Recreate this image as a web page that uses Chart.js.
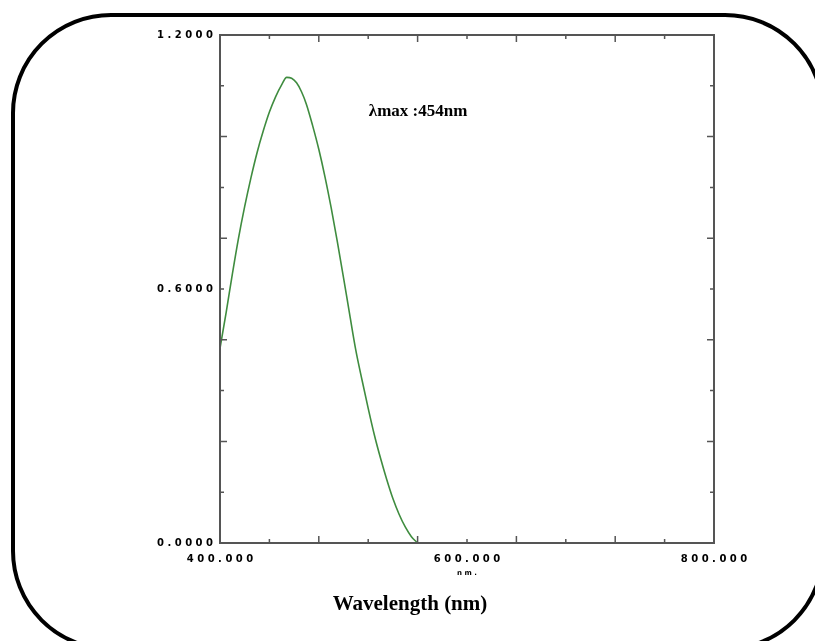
<!DOCTYPE html>
<html>
<head>
<meta charset="utf-8">
<script src="https://cdn.jsdelivr.net/npm/chart.js@4/dist/chart.umd.min.js"></script>
<style>
  html, body { margin: 0; padding: 0; background: #fff; }
  #wrap { position: relative; width: 815px; height: 641px; overflow: hidden; }
  #frame {
    position: absolute; left: 11px; top: 13px; width: 806px; height: 630px;
    border: 4px solid #000; border-radius: 100px;
  }
  #chart { position: absolute; left: 0; top: 0; }
</style>
</head>
<body>
<div id="wrap">
  <div id="frame"></div>
  <canvas id="chart" width="815" height="641"></canvas>
</div>
<script>
// absorbance spectrum
var wavelengths = [400, 405, 410, 415, 420, 425, 430, 435, 440, 445, 450, 454, 458, 462, 466, 470,
                   475, 480, 485, 490, 495, 500, 505, 510, 515, 520, 525, 530, 535, 540, 545, 550, 555, 560];
var absorbance  = [0.46, 0.545, 0.635, 0.72, 0.795, 0.862, 0.922, 0.973, 1.018, 1.054, 1.083, 1.10, 1.098, 1.087, 1.066, 1.036,
                   0.986, 0.93, 0.865, 0.792, 0.712, 0.627, 0.54, 0.455, 0.385, 0.318, 0.255, 0.2, 0.15, 0.105, 0.068, 0.038, 0.015, 0.0];
var xLabels = [400, 600, 800];
var yLabels = [0, 0.6, 1.2];
var peakText = 'λmax :454nm';
var axisTitle = 'Wavelength (nm)';

var points = [];
for (var i = 0; i < wavelengths.length; i++) {
    points.push({x: wavelengths[i], y: absorbance[i]});
}

function spaced(s) {
    return s.split('').join(' ');
}

// box frame + small inward ticks like the spectrometer printout
var frameTicks = {
    id: 'frameTicks',
    afterDraw: function (chart) {
        var ctx = chart.ctx;
        var a = chart.chartArea;
        var sx = chart.scales.x, sy = chart.scales.y;
        ctx.save();
        ctx.strokeStyle = '#555';
        ctx.lineWidth = 2;
        ctx.strokeRect(a.left, a.top, a.right - a.left, a.bottom - a.top);
        ctx.lineWidth = 1.5;
        ctx.beginPath();
        sx.ticks.forEach(function (t) {
            var px = sx.getPixelForValue(t.value);
            var len = ((t.value - 400) % 80 === 0) ? 7 : 4;
            ctx.moveTo(px, a.bottom); ctx.lineTo(px, a.bottom - len);
            ctx.moveTo(px, a.top); ctx.lineTo(px, a.top + len);
        });
        sy.ticks.forEach(function (t) {
            var py = sy.getPixelForValue(t.value);
            var k = Math.round(t.value / 0.12);
            var len = (k % 2 === 0) ? 7 : 4;
            ctx.moveTo(a.left, py); ctx.lineTo(a.left + len, py);
            ctx.moveTo(a.right, py); ctx.lineTo(a.right - len, py);
        });
        ctx.stroke();

        ctx.fillStyle = '#000';
        ctx.font = 'bold 17px "Liberation Serif"';
        ctx.textAlign = 'left';
        ctx.textBaseline = 'middle';
        ctx.fillText(peakText, sx.getPixelForValue(520.5), sy.getPixelForValue(1.018));

        ctx.font = 'bold 21px "Liberation Serif"';
        ctx.textAlign = 'center';
        ctx.fillText(axisTitle, 410, 605);
        ctx.restore();
    }
};

var ctx = document.getElementById('chart').getContext('2d');
new Chart(ctx, {
    type: 'line',
    data: {
        datasets: [{
            data: points,
            borderColor: '#3f8c3f',
            borderWidth: 1.6,
            pointRadius: 0,
            cubicInterpolationMode: 'monotone',
            fill: false
        }]
    },
    options: {
        responsive: false,
        animation: false,
        layout: { padding: { top: 35, right: 101, left: 0, bottom: 0 } },
        plugins: { legend: { display: false }, tooltip: { enabled: false } },
        scales: {
            x: {
                type: 'linear', min: 400, max: 800,
                afterFit: function (s) { s.height = 98; },
                grid: { display: true, drawOnChartArea: false, drawTicks: false },
                border: { display: false },
                ticks: {
                    stepSize: 40, padding: 10, maxRotation: 0, autoSkip: false,
                    color: '#000', font: { family: 'DejaVu Sans', weight: 'bold', size: 10 },
                    callback: function (v) {
                        return xLabels.indexOf(v) >= 0 ? spaced(v.toFixed(3)) : '';
                    }
                },
                title: {
                    display: true, text: 'n m .', color: '#000',
                    font: { family: 'DejaVu Sans', weight: 'bold', size: 7 },
                    padding: { top: 0, bottom: 64 }
                }
            },
            y: {
                min: 0, max: 1.2,
                afterFit: function (s) { s.width = 220; },
                grid: { display: true, drawOnChartArea: false, drawTicks: false },
                border: { display: false },
                ticks: {
                    stepSize: 0.12, padding: 7, autoSkip: false,
                    color: '#000', font: { family: 'DejaVu Sans', weight: 'bold', size: 10 },
                    callback: function (v) {
                        for (var j = 0; j < yLabels.length; j++) {
                            if (Math.abs(v - yLabels[j]) < 1e-6) return spaced(yLabels[j].toFixed(4));
                        }
                        return '';
                    }
                }
            }
        }
    },
    plugins: [frameTicks]
});
</script>
</body>
</html>
